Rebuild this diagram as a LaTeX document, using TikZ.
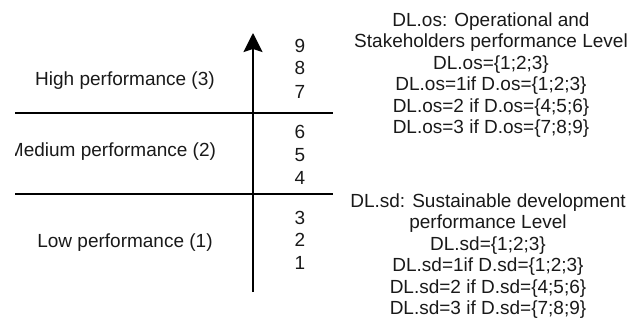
\documentclass[tikz,border=0pt]{standalone}
\usepackage{fontspec}
\setmainfont{Liberation Sans}
\usetikzlibrary{arrows.meta}
\begin{document}
\begin{tikzpicture}[x=1pt,y=1pt,
  txt/.style={text=black!90,font=\fontsize{19}{21.4}\selectfont,inner sep=0pt},
  num/.style={text=black!90,font=\fontsize{19}{21.4}\selectfont,inner sep=0pt},
  block/.style={txt,align=center},
  sep/.style={line width=2pt,black},
  axis/.style={line width=2.3pt,black,-{Stealth[length=19pt,width=19pt,inset=3pt]}}]
\useasboundingbox (0,0) rectangle (642,327);
% separators
\coordinate (l1a) at (15,214); \coordinate (l1b) at (333,214);
\coordinate (l2a) at (15,133); \coordinate (l2b) at (333,133);
\draw[sep] (l1a) -- (l1b);
\draw[sep] (l2a) -- (l2b);
% axis
\coordinate (ax0) at (253,35); \coordinate (ax1) at (253,294);
\draw[axis] (ax0) -- (ax1);
% level labels
\node[txt] (high) at (125,246) {High performance (3)};
\begin{scope}
\clip (15,0) rectangle (642,327);
\node[txt] (med) at (112,175) {Medium performance (2)};
\end{scope}
\node[txt] (low) at (125,84) {Low performance (1)};
% numbers
\foreach \n/\y in {9/281,8/259,7/235,6/195,5/172,4/149,3/109,2/87,1/64}
  \node[num] (n\n) at (300,\y) {\n};
% right blocks
\node[block] (os) at (491,252) {DL.os: Operational and\\Stakeholders performance Level\\DL.os=\{1;2;3\}\\DL.os=1if D.os=\{1;2;3\}\\DL.os=2 if D.os=\{4;5;6\}\\DL.os=3 if D.os=\{7;8;9\}};
\node[block] (sd) at (488,71) {DL.sd: Sustainable development\\performance Level\\DL.sd=\{1;2;3\}\\DL.sd=1if D.sd=\{1;2;3\}\\DL.sd=2 if D.sd=\{4;5;6\}\\DL.sd=3 if D.sd=\{7;8;9\}};
\end{tikzpicture}
\end{document}
